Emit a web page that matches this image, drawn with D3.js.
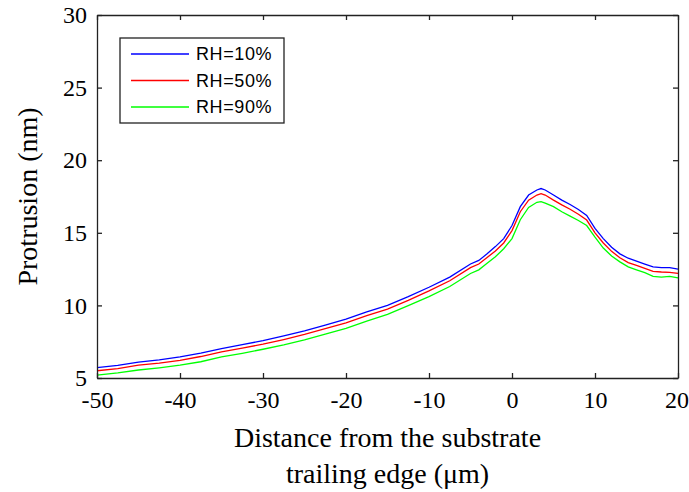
<!DOCTYPE html>
<html>
<head>
<meta charset="utf-8">
<script src="https://cdn.jsdelivr.net/npm/d3@7/dist/d3.min.js"></script>
<style>
  body { margin: 0; background: #fff; }
  .axis-label { font-family: "Liberation Serif", "Times New Roman", serif; fill: #000; }
  .legend-text { font-family: "Liberation Sans", Arial, sans-serif; fill: #000; }
</style>
</head>
<body>
<div id="chart"></div>
<script>
"use strict";

// distance from trailing edge (um)
var distance = [-50, -47.5, -45, -42.5, -40, -37.5, -35, -32.5, -30, -27.5, -25, -22.5, -20, -17.5, -15, -12.5, -10, -7.5, -5, -4, -3, -2, -1, 0, 1, 2, 3, 3.5, 4, 5, 6, 7, 8, 9, 10, 11, 12, 13, 14, 15, 16, 17, 18, 19, 20];

var rh10 = [5.72, 5.87, 6.1, 6.25, 6.45, 6.72, 7.03, 7.3, 7.57, 7.9, 8.25, 8.65, 9.05, 9.55, 10.0, 10.6, 11.25, 11.95, 12.85, 13.1, 13.55, 14.05, 14.6, 15.5, 16.8, 17.6, 17.95, 18.05, 17.95, 17.6, 17.25, 16.95, 16.6, 16.2, 15.3, 14.6, 14.0, 13.55, 13.25, 13.05, 12.85, 12.65, 12.6, 12.6, 12.5];
var rh50 = [5.5, 5.65, 5.88, 6.02, 6.22, 6.48, 6.8, 7.06, 7.33, 7.65, 8.0, 8.4, 8.8, 9.3, 9.75, 10.35, 11.0, 11.7, 12.6, 12.85, 13.3, 13.75, 14.3, 15.15, 16.45, 17.25, 17.6, 17.7, 17.6, 17.25, 16.92, 16.62, 16.28, 15.88, 15.0, 14.3, 13.72, 13.28, 12.95, 12.75, 12.55, 12.35, 12.3, 12.28, 12.2];
var rh90 = [5.2, 5.35, 5.55, 5.7, 5.88, 6.12, 6.45, 6.7, 6.98, 7.28, 7.62, 8.02, 8.42, 8.92, 9.38, 9.98, 10.6, 11.3, 12.2, 12.45, 12.9, 13.35, 13.9, 14.6, 15.9, 16.75, 17.1, 17.15, 17.05, 16.8, 16.45, 16.15, 15.85, 15.5, 14.7, 13.95, 13.4, 13.0, 12.65, 12.45, 12.25, 12.0, 11.95, 12.0, 11.9];

var seriesNames = ["RH=10%", "RH=50%", "RH=90%"];
var seriesColors = ["#0000ff", "#ff0000", "#00ff00"];
var xTicks = [-50, -40, -30, -20, -10, 0, 10, 20];
var yTicks = [5, 10, 15, 20, 25, 30];

var width = 689, height = 492;
var margin = { top: 15, right: 11, bottom: 114, left: 97 };
var innerW = width - margin.left - margin.right;
var innerH = height - margin.top - margin.bottom;

var svg = d3.select("#chart").append("svg")
    .attr("width", width)
    .attr("height", height);

var x = d3.scaleLinear().domain([-50, 20]).range([0, innerW]);
var y = d3.scaleLinear().domain([5, 30]).range([innerH, 0]);

var g = svg.append("g").attr("transform", "translate(" + margin.left + "," + margin.top + ")");

// lines
var allSeries = [rh10, rh50, rh90];
var line = d3.line()
    .x(function (d, i) { return x(distance[i]); })
    .y(function (d) { return y(d); });

allSeries.forEach(function (s, k) {
    g.append("path")
        .datum(s)
        .attr("fill", "none")
        .attr("stroke", seriesColors[k])
        .attr("stroke-width", 1.3)
        .attr("d", line);
});

// axes with inward ticks, box style; plain hyphen for negatives like the original
var plain = function (d) { return String(d); };
var tickLen = 5;
var xBottom = g.append("g").attr("transform", "translate(0," + innerH + ")")
    .call(d3.axisBottom(x).tickValues(xTicks).tickFormat(plain).tickSizeInner(-tickLen).tickSizeOuter(0).tickPadding(13));
var xTop = g.append("g")
    .call(d3.axisTop(x).tickValues(xTicks).tickSizeInner(-tickLen).tickSizeOuter(0).tickFormat(""));
var yLeft = g.append("g")
    .call(d3.axisLeft(y).tickValues(yTicks).tickFormat(plain).tickSizeInner(-tickLen).tickSizeOuter(0).tickPadding(10));
var yRight = g.append("g").attr("transform", "translate(" + innerW + ",0)")
    .call(d3.axisRight(y).tickValues(yTicks).tickSizeInner(-tickLen).tickSizeOuter(0).tickFormat(""));

[xBottom, xTop, yLeft, yRight].forEach(function (ax) {
    ax.select(".domain").attr("stroke", "#222").attr("stroke-width", 1.3);
    ax.selectAll(".tick line").attr("stroke", "#222").attr("stroke-width", 1.3);
    ax.selectAll(".tick text")
        .attr("class", "axis-label")
        .style("font-size", "24px")
        .attr("fill", "#000");
});
// keep the last x label inside the window
xBottom.selectAll(".tick text").filter(function (d) { return d === 20; }).attr("dx", "-1.5");

// axis titles
svg.append("text")
    .attr("class", "axis-label")
    .attr("x", margin.left + innerW / 2)
    .attr("y", 447)
    .attr("text-anchor", "middle")
    .style("font-size", "28px")
    .text("Distance from the substrate");
svg.append("text")
    .attr("class", "axis-label")
    .attr("x", margin.left + innerW / 2)
    .attr("y", 483)
    .attr("text-anchor", "middle")
    .style("font-size", "28px")
    .text("trailing edge (\u03bcm)");
svg.append("text")
    .attr("class", "axis-label")
    .attr("transform", "translate(37," + (margin.top + innerH / 2) + ") rotate(-90)")
    .attr("text-anchor", "middle")
    .style("font-size", "28px")
    .text("Protrusion (nm)");

// legend
var legend = svg.append("g").attr("transform", "translate(120,38)");
legend.append("rect")
    .attr("width", 164)
    .attr("height", 85)
    .attr("fill", "#fff")
    .attr("stroke", "#222")
    .attr("stroke-width", 1.3);
seriesNames.forEach(function (name, k) {
    var cy = 16 + k * 26.5;
    legend.append("line")
        .attr("x1", 11).attr("x2", 69)
        .attr("y1", cy).attr("y2", cy)
        .attr("stroke", seriesColors[k])
        .attr("stroke-width", 1.3);
    legend.append("text")
        .attr("class", "legend-text")
        .attr("x", 76)
        .attr("y", cy)
        .attr("dy", "0.35em")
        .style("font-size", "18px")
        .style("letter-spacing", "0.6px")
        .text(name);
});
</script>
</body>
</html>
